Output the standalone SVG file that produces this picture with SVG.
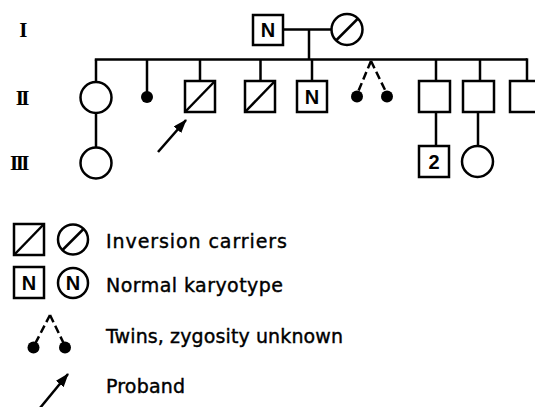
<svg xmlns="http://www.w3.org/2000/svg" width="535" height="407" viewBox="0 0 535 407">
  <style>
    .ln { stroke: #000; stroke-width: 2.5; fill: none; }
    .dash { stroke: #000; stroke-width: 2.5; fill: none; stroke-dasharray: 8 4; }
    .sym { stroke: #000; stroke-width: 2.5; fill: #fff; }
    .dot { fill: #000; stroke: none; }
    .gen { font-family: "Liberation Serif", serif; font-weight: bold; font-size: 21px; letter-spacing: -2.5px; text-anchor: end; fill: #000; }
    .mark { font-family: "Liberation Sans", Arial, sans-serif; font-weight: bold; font-size: 20px; text-anchor: middle; fill: #000; }
    .leg { font-family: "DejaVu Sans", sans-serif; font-size: 19px; fill: #000; stroke: #000; stroke-width: 0.4; }
  </style>
  <defs>
    <marker id="arrowhead" viewBox="0 0 14 10" refX="13" refY="5" markerWidth="14" markerHeight="10" orient="auto" markerUnits="userSpaceOnUse">
      <path d="M0,0 L14,5 L0,10 Z" fill="#000"/>
    </marker>
  </defs>
  <rect width="535" height="407" fill="#fff"/>

  <!-- generation labels -->
  <text class="gen" x="25" y="37">I</text>
  <text class="gen" x="27" y="105">II</text>
  <text class="gen" x="27" y="170">III</text>

  <!-- connectors -->
  <g id="connectors">
    <!-- marriage line and descent -->
    <line class="ln" x1="283" y1="29.5" x2="331" y2="29.5"/>
    <line class="ln" x1="309" y1="29.5" x2="309" y2="60"/>
    <!-- sibship line -->
    <line class="ln" x1="94.8" y1="59.5" x2="527" y2="59.5"/>
    <!-- drops to generation II -->
    <line class="ln" x1="96" y1="59.5" x2="96" y2="82"/>
    <line class="ln" x1="147" y1="59.5" x2="147" y2="92"/>
    <line class="ln" x1="200" y1="59.5" x2="200" y2="81"/>
    <line class="ln" x1="260.5" y1="59.5" x2="260.5" y2="81"/>
    <line class="ln" x1="312" y1="59.5" x2="312" y2="81"/>
    <line class="dash" x1="371" y1="61" x2="358" y2="92"/>
    <line class="dash" x1="371" y1="61" x2="386" y2="92"/>
    <line class="ln" x1="436" y1="59.5" x2="436" y2="81"/>
    <line class="ln" x1="480" y1="59.5" x2="480" y2="81"/>
    <line class="ln" x1="527" y1="58.3" x2="527" y2="81"/>
    <!-- drops to generation III -->
    <line class="ln" x1="96" y1="113" x2="96" y2="148"/>
    <line class="ln" x1="436" y1="112" x2="436" y2="146"/>
    <line class="ln" x1="478" y1="112" x2="478" y2="146"/>
    <!-- proband arrow -->
    <line class="ln" x1="158" y1="152" x2="186" y2="120" marker-end="url(#arrowhead)"/>
  </g>

  <!-- generation I -->
  <g id="I-1">
    <rect class="sym" x="253" y="15" width="30" height="30"/>
    <text class="mark" x="268" y="37">N</text>
  </g>
  <g id="I-2">
    <circle class="sym" cx="347" cy="29.5" r="15.5"/>
    <line class="ln" x1="336" y1="40.5" x2="358" y2="18.5"/>
  </g>

  <!-- generation II -->
  <g id="II-1">
    <circle class="sym" cx="96" cy="97.5" r="15.5"/>
  </g>
  <g id="II-2">
    <circle class="dot" cx="147" cy="97" r="6"/>
  </g>
  <g id="II-3">
    <rect class="sym" x="185" y="81" width="30" height="31"/>
    <line class="ln" x1="185" y1="112" x2="215" y2="81"/>
  </g>
  <g id="II-4">
    <rect class="sym" x="245" y="81" width="30" height="31"/>
    <line class="ln" x1="245" y1="112" x2="275" y2="81"/>
  </g>
  <g id="II-5">
    <rect class="sym" x="297" y="81" width="30" height="31"/>
    <text class="mark" x="312" y="104">N</text>
  </g>
  <g id="II-6">
    <circle class="dot" cx="357" cy="96.5" r="6"/>
  </g>
  <g id="II-7">
    <circle class="dot" cx="387" cy="96.5" r="6"/>
  </g>
  <g id="II-8">
    <rect class="sym" x="419" y="81" width="31" height="31"/>
  </g>
  <g id="II-9">
    <rect class="sym" x="463" y="81" width="31" height="31"/>
  </g>
  <g id="II-10">
    <rect class="sym" x="510" y="81" width="40" height="31"/>
  </g>

  <!-- generation III -->
  <g id="III-1">
    <circle class="sym" cx="96" cy="163" r="15.5"/>
  </g>
  <g id="III-2">
    <rect class="sym" x="419" y="146" width="30" height="31"/>
    <text class="mark" x="434" y="169">2</text>
  </g>
  <g id="III-3">
    <circle class="sym" cx="477.5" cy="161.5" r="15.5"/>
  </g>

  <!-- key -->
  <g id="key-carriers">
    <rect class="sym" x="14" y="224" width="30" height="31"/>
    <line class="ln" x1="14" y1="255" x2="44" y2="224"/>
    <circle class="sym" cx="73" cy="239.5" r="15"/>
    <line class="ln" x1="62.5" y1="250" x2="83.5" y2="229"/>
    <text class="leg" x="106" y="248" textLength="181" lengthAdjust="spacing">Inversion carriers</text>
  </g>
  <g id="key-normal">
    <rect class="sym" x="14" y="267" width="30" height="31"/>
    <text class="mark" x="29" y="290">N</text>
    <circle class="sym" cx="73" cy="283" r="15"/>
    <text class="mark" x="73" y="290">N</text>
    <text class="leg" x="106" y="292" textLength="177" lengthAdjust="spacing">Normal karyotype</text>
  </g>
  <g id="key-twins">
    <line class="dash" x1="50" y1="315" x2="35" y2="344"/>
    <line class="dash" x1="50" y1="315" x2="64" y2="344"/>
    <circle class="dot" cx="33.5" cy="347.5" r="6"/>
    <circle class="dot" cx="65" cy="347.5" r="6"/>
    <text class="leg" x="106" y="343" textLength="237" lengthAdjust="spacing">Twins, zygosity unknown</text>
  </g>
  <g id="key-proband">
    <line class="ln" x1="40" y1="408" x2="68" y2="374" marker-end="url(#arrowhead)"/>
    <text class="leg" x="106" y="393" textLength="79" lengthAdjust="spacing">Proband</text>
  </g>
</svg>
